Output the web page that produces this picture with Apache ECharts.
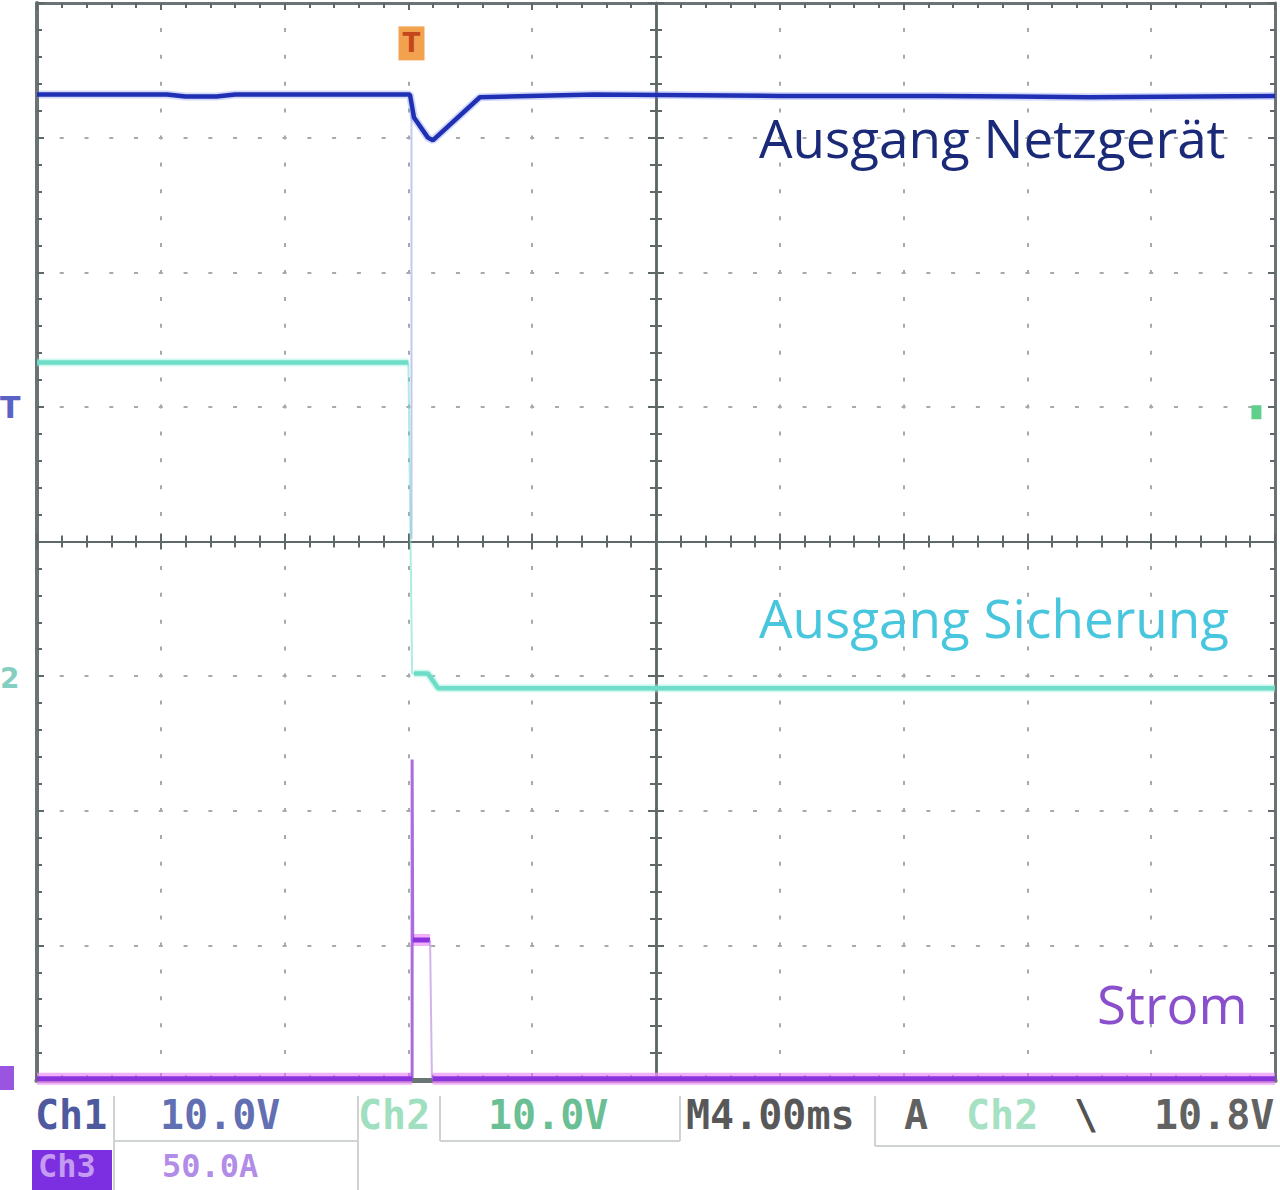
<!DOCTYPE html>
<html><head><meta charset="utf-8">
<script src="https://cdn.jsdelivr.net/npm/echarts@6/dist/echarts.min.js"></script>
<style>html,body{margin:0;padding:0;background:#fff}#c{width:1280px;height:1190px}</style>
</head><body><div id="c"></div>
<script>
// time in ms (4 ms/div, 10 div), level in divisions (8 div)
const timeRange = [-20, 20];
const levelRange = [-4, 4];

// Ch1: Ausgang Netzgerät
const ch1Time  = [-20, -15.8, -15.2, -14.2, -13.6, -7.95, -7.82, -7.37, -7.21, -5.69, -2, 4, 9, 14, 20];
const ch1Level = [3.32, 3.32, 3.305, 3.305, 3.32, 3.32, 3.15, 3.00, 2.98, 3.30, 3.32, 3.31, 3.31, 3.30, 3.31];
const ch1SpikeTime  = [-7.9, -7.9];
const ch1SpikeLevel = [3.2, 0.02];

// Ch2: Ausgang Sicherung
const ch2Time  = [-20, -8.0, null, -7.82, -7.37, -7.04, 20];
const ch2Level = [1.33, 1.33, null, -0.98, -0.98, -1.09, -1.09];
const ch2EdgeTime  = [-8.0, -7.88, -7.82];
const ch2EdgeLevel = [1.33, -0.98, -0.98];

// Ch3: Strom
const ch3Time  = [-20, -7.88, null, -7.86, -7.30, null, -7.22, 20];
const ch3Level = [-3.99, -3.99, null, -2.96, -2.96, null, -3.99, -3.99];
const ch3SpikeTime  = [-7.88, -7.88, -7.86];
const ch3SpikeLevel = [-3.99, -1.62, -2.96];
const ch3FallTime  = [-7.30, -7.24];
const ch3FallLevel = [-2.96, -3.99];

// marker levels
const triggerTime = -7.9;
const trigLevel = 0.96;

const zip = (t, v) => t.map((x, i) => (x === null ? ['-', '-'] : [x, v[i]]));

const gridCol = '#a4abab';
const axisCol = '#5f6868';

function centerX(pos) {
  return { gridIndex: 0, type: 'value', min: timeRange[0], max: timeRange[1], interval: 4, position: pos,
    axisLine: { show: true, onZero: true, lineStyle: { color: axisCol, width: 2 } },
    axisTick: { show: true, inside: true, length: 8, lineStyle: { color: axisCol, width: 2 } },
    minorTick: { show: true, splitNumber: 5, length: 6, lineStyle: { color: axisCol, width: 2 } },
    axisLabel: { show: false },
    splitLine: { show: pos === 'bottom', lineStyle: { color: gridCol, width: 2, type: [4, 22.9], dashOffset: 2 } } };
}
function centerY(pos) {
  return { gridIndex: 0, type: 'value', min: levelRange[0], max: levelRange[1], interval: 1, position: pos,
    axisLine: { show: true, onZero: true, lineStyle: { color: axisCol, width: 2.5 } },
    axisTick: { show: true, inside: true, length: 8, lineStyle: { color: axisCol, width: 2 } },
    minorTick: { show: true, splitNumber: 5, length: 6, lineStyle: { color: axisCol, width: 2 } },
    axisLabel: { show: false },
    splitLine: { show: pos === 'left', lineStyle: { color: gridCol, width: 2, type: [4, 20.76], dashOffset: 2 } } };
}
function edgeX(pos) {
  return { gridIndex: 1, type: 'value', min: timeRange[0], max: timeRange[1], interval: 4, position: pos,
    axisLine: { show: true, onZero: false, lineStyle: { color: '#6b7474', width: pos === 'bottom' ? 5 : 3 } },
    axisTick: { show: true, inside: true, length: 7, lineStyle: { color: axisCol, width: 2 } },
    minorTick: { show: true, splitNumber: 5, length: 5, lineStyle: { color: axisCol, width: 2 } },
    axisLabel: { show: false }, splitLine: { show: false } };
}
function edgeY(pos) {
  return { gridIndex: 1, type: 'value', min: levelRange[0], max: levelRange[1], interval: 1, position: pos,
    axisLine: { show: true, onZero: false, lineStyle: { color: '#6b7474', width: pos === 'left' ? 4 : 3 } },
    axisTick: { show: true, inside: true, length: 7, lineStyle: { color: axisCol, width: 2 } },
    minorTick: { show: true, splitNumber: 5, length: 5, lineStyle: { color: axisCol, width: 2 } },
    axisLabel: { show: false }, splitLine: { show: false } };
}

const lineBase = { type: 'line', xAxisIndex: 0, yAxisIndex: 0, showSymbol: false, symbol: 'none',
  clip: false, animation: false, silent: true, connectNulls: false };

const statusFont = 'DejaVu Sans Mono';
function sText(x, y, text, color, size) {
  return { type: 'text', left: x, top: y, z: 20,
    style: { text: text, fill: color, font: 'bold ' + (size || 40) + 'px "' + statusFont + '"', opacity: 0.85 } };
}
function hLine(x1, x2, y) { return { type: 'line', z: 15, shape: { x1: x1, y1: y, x2: x2, y2: y }, style: { stroke: '#cfd3d3', lineWidth: 2 } }; }
function vLine(x, y1, y2) { return { type: 'line', z: 15, shape: { x1: x, y1: y1, x2: x, y2: y2 }, style: { stroke: '#cfd3d3', lineWidth: 2 } }; }

const chart = echarts.init(document.getElementById('c'), null, { renderer: 'svg' });
chart.setOption({
  backgroundColor: '#ffffff',
  animation: false,
  grid: [
    { left: 37, right: 5, top: 3, bottom: 110 },
    { left: 37, right: 5, top: 3, bottom: 110 }
  ],
  xAxis: [centerX('bottom'), centerX('top'), edgeX('top'), edgeX('bottom')],
  yAxis: [centerY('left'), centerY('right'), edgeY('left'), edgeY('right')],
  series: [
    // glow underlays
    Object.assign({}, lineBase, { name: 'Ch1 glow', data: zip(ch1Time, ch1Level), z: 4,
      lineStyle: { color: 'rgba(110,130,240,0.3)', width: 8 } }),
    Object.assign({}, lineBase, { name: 'Ch2 glow', data: zip(ch2Time, ch2Level), z: 4,
      lineStyle: { color: 'rgba(150,240,225,0.45)', width: 8 } }),
    Object.assign({}, lineBase, { name: 'Ch3 glow', data: zip(ch3Time, ch3Level), z: 4,
      lineStyle: { color: 'rgba(238,150,245,0.75)', width: 12 } }),
    Object.assign({}, lineBase, { name: 'Ch1', data: zip(ch1Time, ch1Level), z: 5,
      lineStyle: { color: '#1f30b4', width: 4.5 },
      markPoint: { symbol: 'rect', symbolSize: [26, 34], silent: true, animation: false,
        itemStyle: { color: '#f2a24e' },
        label: { show: true, formatter: 'T', color: '#c4471c', fontSize: 26, fontWeight: 'bold', fontFamily: 'DejaVu Sans' },
        data: [{ coord: [triggerTime, 3.70] }] } }),
    Object.assign({}, lineBase, { name: 'Ch1 edge', data: zip(ch1SpikeTime, ch1SpikeLevel), z: 4,
      lineStyle: { color: 'rgba(120,135,215,0.45)', width: 2 } }),
    Object.assign({}, lineBase, { name: 'Ch2', data: zip(ch2Time, ch2Level), z: 5,
      lineStyle: { color: '#6edcc6', width: 4.5 },
      markPoint: { silent: true, animation: false, symbol: 'rect', symbolSize: [10, 14],
        itemStyle: { color: '#5ed08c' }, label: { show: false },
        data: [{ coord: [19.4, trigLevel] }] } }),
    Object.assign({}, lineBase, { name: 'Ch2 edge', data: zip(ch2EdgeTime, ch2EdgeLevel), z: 4,
      lineStyle: { color: 'rgba(110,220,200,0.55)', width: 2 } }),
    Object.assign({}, lineBase, { name: 'Ch3', data: zip(ch3Time, ch3Level), z: 6,
      lineStyle: { color: '#8c33e0', width: 5 } }),
    Object.assign({}, lineBase, { name: 'Ch3 spike', data: zip(ch3SpikeTime, ch3SpikeLevel), z: 6,
      lineStyle: { color: 'rgba(140,60,215,0.75)', width: 3 } }),
    Object.assign({}, lineBase, { name: 'Ch3 fall', data: zip(ch3FallTime, ch3FallLevel), z: 6,
      lineStyle: { color: 'rgba(180,130,225,0.6)', width: 2 } })
  ],
  graphic: [
    // trace labels
    { type: 'text', left: 759, top: 111, z: 10, style: { text: 'Ausgang Netzgerät', fill: '#1b2a78', font: '53px "Open Sans"' } },
    { type: 'text', left: 759, top: 591, z: 10, style: { text: 'Ausgang Sicherung', fill: '#48c6de', font: '53px "Open Sans"' } },
    { type: 'text', left: 1097, top: 977, z: 10, style: { text: 'Strom', fill: '#8a50cc', font: '53px "Open Sans"' } },
    // channel ground markers at left edge
    { type: 'text', left: 0, top: 392, z: 10, style: { text: 'T', fill: '#5a63c4', font: 'bold 30px "DejaVu Sans"' } },
    { type: 'text', left: 0, top: 664, z: 10, style: { text: '2', fill: '#63c2b2', font: 'bold 28px "DejaVu Sans"', opacity: 0.8 } },
    { type: 'rect', left: 0, top: 1066, z: 10, shape: { width: 14, height: 24 }, style: { fill: '#9a55e0' } },
    // status bar boxes
    vLine(114, 1096, 1190), vLine(358, 1096, 1190), hLine(114, 358, 1141),
    vLine(440, 1096, 1141), hLine(440, 680, 1141), vLine(680, 1096, 1141),
    vLine(875, 1096, 1146), hLine(875, 1280, 1146),
    // status texts
    sText(35, 1095, 'Ch1', '#2e3c8c'),
    sText(160, 1095, '10.0V', '#4656a6'),
    sText(358, 1095, 'Ch2', '#8fdab4'),
    sText(488, 1095, '10.0V', '#4fb482'),
    sText(686, 1095, 'M4.00ms', '#3a3a3a'),
    sText(904, 1095, 'A', '#444444'),
    sText(966, 1095, 'Ch2', '#96dcb8'),
    sText(1074, 1095, '\\', '#333333'),
    sText(1154, 1095, '10.8V', '#454545'),
    { type: 'rect', left: 32, top: 1150, z: 18, shape: { width: 80, height: 40 }, style: { fill: '#7b2fe0' } },
    sText(38, 1150, 'Ch3', '#d3b0f6', 32),
    sText(162, 1150, '50.0A', '#a478e4', 32)
  ]
});
</script></body></html>
